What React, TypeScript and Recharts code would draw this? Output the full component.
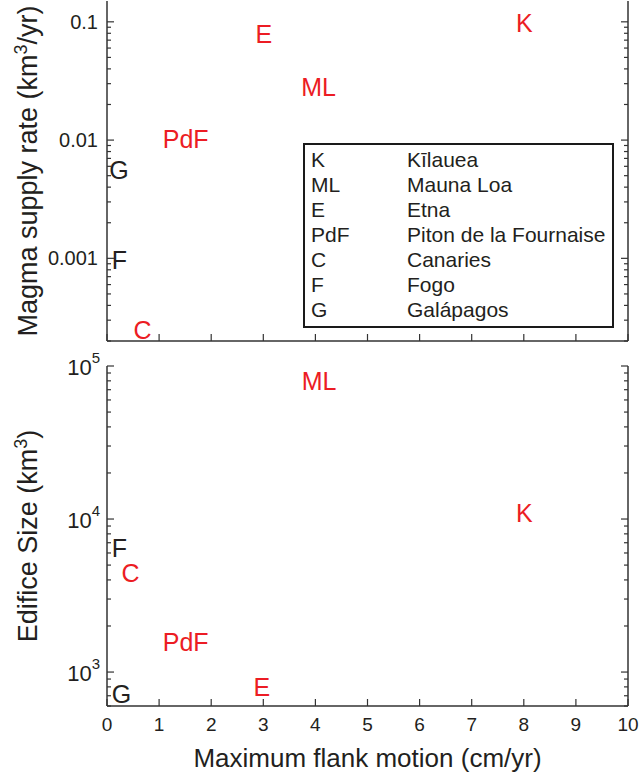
import { ScatterChart, Scatter, XAxis, YAxis, Legend } from 'recharts';

const codes = ['K', 'ML', 'E', 'PdF', 'C', 'F', 'G'];
const names = ['Kīlauea', 'Mauna Loa', 'Etna', 'Piton de la Fournaise', 'Canaries', 'Fogo', 'Galápagos'];
const redCodes = ['K', 'ML', 'E', 'PdF', 'C'];

// top panel: magma supply rate vs flank motion
const supplyX = [8.01, 4.06, 3.01, 1.51, 0.68, 0.24, 0.23];
const supplyY = [0.098, 0.0281, 0.0786, 0.0102, 0.000248, 0.000964, 0.00559];

// bottom panel: edifice size vs flank motion
const sizeX = [8.01, 4.07, 2.97, 1.51, 0.45, 0.24, 0.28];
const sizeY = [11030, 80000, 802, 1560, 4467, 6512, 716];

const xTicks = [0, 1, 2, 3, 4, 5, 6, 7, 8, 9, 10];
const supplyMajor = [0.001, 0.01, 0.1];
const supplyMinor = [
  0.0002, 0.0003, 0.0004, 0.0005, 0.0006, 0.0007, 0.0008, 0.0009,
  0.002, 0.003, 0.004, 0.005, 0.006, 0.007, 0.008, 0.009,
  0.02, 0.03, 0.04, 0.05, 0.06, 0.07, 0.08, 0.09,
];
const supplyTickLabels = ['0.001', '0.01', '0.1'];
const sizeMajor = [1000, 10000, 100000];
const sizeMinor = [
  600, 700, 800, 900,
  2000, 3000, 4000, 5000, 6000, 7000, 8000, 9000,
  20000, 30000, 40000, 50000, 60000, 70000, 80000, 90000,
];
const sizeExponents = ['3', '4', '5'];

const supplyData = codes.map((c, i) => ({ code: c, x: supplyX[i], y: supplyY[i] }));
const sizeData = codes.map((c, i) => ({ code: c, x: sizeX[i], y: sizeY[i] }));

const RED = '#ec1c24';
const INK = '#231f20';
const AXIS = '#333';
const FONT = '"Liberation Sans", Arial, sans-serif';

const axisLine = { stroke: AXIS, strokeWidth: 1.5 };

function CodeLabel(props: any) {
  const { cx, cy, payload } = props;
  const red = redCodes.includes(payload.code);
  return (
    <text
      x={cx}
      y={cy}
      textAnchor="middle"
      dominantBaseline="central"
      fontSize={25}
      fontFamily={FONT}
      fill={red ? RED : INK}
    >
      {payload.code}
    </text>
  );
}

const Nothing = () => <g />;

// ticks point into the plot, as in the original
function LeftTick(props: any) {
  const { x, y, payload, major, labels } = props;
  const idx = major.indexOf(payload.value);
  const isMajor = idx >= 0;
  return (
    <g>
      <line x1={x} x2={x + (isMajor ? 7 : 4)} y1={y} y2={y} stroke={AXIS} strokeWidth={1.2} />
      {isMajor && labels && (
        <text x={x - 9} y={y} textAnchor="end" dominantBaseline="central" fontSize={20} fontFamily={FONT} fill={INK}>
          {labels[idx]}
        </text>
      )}
    </g>
  );
}

function ExpTick(props: any) {
  const { x, y, payload } = props;
  const idx = sizeMajor.indexOf(payload.value);
  const isMajor = idx >= 0;
  return (
    <g>
      <line x1={x} x2={x + (isMajor ? 7 : 4)} y1={y} y2={y} stroke={AXIS} strokeWidth={1.2} />
      {isMajor && (
        <text x={x - 7} y={y + 9} textAnchor="end" fontSize={22} fontFamily={FONT} fill={INK}>
          <tspan>10</tspan>
          <tspan dy={-12} fontSize={15}>{sizeExponents[idx]}</tspan>
        </text>
      )}
    </g>
  );
}

function RightTick(props: any) {
  const { x, y, payload, major } = props;
  const isMajor = major.includes(payload.value);
  return <line x1={x} x2={x - (isMajor ? 7 : 4)} y1={y} y2={y} stroke={AXIS} strokeWidth={1.2} />;
}

function BottomTick(props: any) {
  const { x, y, payload, showLabel } = props;
  return (
    <g>
      <line x1={x} x2={x} y1={y} y2={y - 7} stroke={AXIS} strokeWidth={1.2} />
      {showLabel && (
        <text x={x} y={y + 25} textAnchor="middle" fontSize={19} fontFamily={FONT} fill={INK}>
          {payload.value}
        </text>
      )}
    </g>
  );
}

function TopTick(props: any) {
  const { x, y } = props;
  return <line x1={x} x2={x} y1={y} y2={y + 7} stroke={AXIS} strokeWidth={1.2} />;
}

function YTitle({ viewBox, main }: any) {
  const cx = viewBox.x + 37;
  const cy = viewBox.y + viewBox.height / 2;
  return (
    <text
      x={cx}
      y={cy}
      transform={`rotate(-90, ${cx}, ${cy})`}
      textAnchor="middle"
      fontSize={27}
      fontFamily={FONT}
      fill={INK}
    >
      <tspan>{main}</tspan>
      <tspan dy={-10} fontSize={18}>3</tspan>
      <tspan dy={10}>{main.startsWith('Magma') ? '/yr)' : ')'}</tspan>
    </text>
  );
}

function XTitle({ viewBox }: any) {
  return (
    <text
      x={viewBox.x + viewBox.width / 2}
      y={viewBox.y + 61}
      textAnchor="middle"
      fontSize={26}
      fontFamily={FONT}
      fill={INK}
    >
      Maximum flank motion (cm/yr)
    </text>
  );
}

function KeyBox() {
  return (
    <div
      style={{
        border: '2.5px solid #1a1a1a',
        background: '#fff',
        padding: '2px 6px 4px 6px',
        width: 295,
        fontFamily: FONT,
        fontSize: 21,
        lineHeight: '25px',
        color: INK,
        boxSizing: 'content-box',
      }}
    >
      {codes.map((c, i) => (
        <div key={c} style={{ display: 'flex', whiteSpace: 'nowrap' }}>
          <span style={{ width: 96 }}>{c}</span>
          <span>{names[i]}</span>
        </div>
      ))}
    </div>
  );
}

export default function App() {
  return (
    <div style={{ position: 'relative', width: 639, height: 777, background: '#fff' }}>
      <style>{'body{margin:0}'}</style>
      <div style={{ position: 'absolute', left: 0, top: 0 }}>
        <ScatterChart width={639} height={345} margin={{ top: 1, right: 0, bottom: 0, left: 0 }}>
          <XAxis
            xAxisId="b"
            type="number"
            dataKey="x"
            domain={[0, 10]}
            ticks={xTicks}
            interval={0}
            height={4}
            axisLine={axisLine}
            tickLine={false}
            tickSize={0}
            tickMargin={0}
            tick={(p: any) => <BottomTick {...p} showLabel={false} />}
            allowDataOverflow
          />
          <XAxis
            xAxisId="t"
            orientation="top"
            type="number"
            dataKey="x"
            domain={[0, 10]}
            ticks={xTicks}
            interval={0}
            height={0}
            axisLine={axisLine}
            tickLine={false}
            tickSize={0}
            tickMargin={0}
            tick={(p: any) => <TopTick {...p} />}
            allowDataOverflow
          />
          <YAxis
            yAxisId="l"
            type="number"
            dataKey="y"
            scale="log"
            domain={[0.0002, 0.15]}
            ticks={[...supplyMinor, ...supplyMajor]}
            interval={0}
            width={107}
            axisLine={axisLine}
            tickLine={false}
            tickSize={0}
            tickMargin={0}
            tick={(p: any) => <LeftTick {...p} major={supplyMajor} labels={supplyTickLabels} />}
            allowDataOverflow
            label={{ content: (p: any) => <YTitle {...p} main="Magma supply rate (km" /> }}
          />
          <YAxis
            yAxisId="r"
            orientation="right"
            type="number"
            dataKey="y"
            scale="log"
            domain={[0.0002, 0.15]}
            ticks={[...supplyMinor, ...supplyMajor]}
            interval={0}
            width={11}
            axisLine={axisLine}
            tickLine={false}
            tickSize={0}
            tickMargin={0}
            tick={(p: any) => <RightTick {...p} major={supplyMajor} />}
            allowDataOverflow
          />
          <Scatter data={supplyData} xAxisId="t" yAxisId="r" shape={Nothing} isAnimationActive={false} />
          <Scatter data={supplyData} xAxisId="b" yAxisId="l" shape={CodeLabel} isAnimationActive={false} />
          <Legend
            layout="vertical"
            align="center"
            verticalAlign="middle"
            content={() => <KeyBox />}
            wrapperStyle={{ position: 'absolute', left: 303, top: 143, width: 'auto' }}
          />
        </ScatterChart>
      </div>
      <div style={{ position: 'absolute', left: 0, top: 345 }}>
        <ScatterChart width={639} height={432} margin={{ top: 21, right: 0, bottom: 0, left: 0 }}>
          <XAxis
            xAxisId="b"
            type="number"
            dataKey="x"
            domain={[0, 10]}
            ticks={xTicks}
            interval={0}
            height={71}
            axisLine={axisLine}
            tickLine={false}
            tickSize={0}
            tickMargin={0}
            tick={(p: any) => <BottomTick {...p} showLabel />}
            allowDataOverflow
            label={{ content: (p: any) => <XTitle {...p} /> }}
          />
          <XAxis
            xAxisId="t"
            orientation="top"
            type="number"
            dataKey="x"
            domain={[0, 10]}
            ticks={xTicks}
            interval={0}
            height={0}
            axisLine={axisLine}
            tickLine={false}
            tickSize={0}
            tickMargin={0}
            tick={(p: any) => <TopTick {...p} />}
            allowDataOverflow
          />
          <YAxis
            yAxisId="l"
            type="number"
            dataKey="y"
            scale="log"
            domain={[600, 100000]}
            ticks={[...sizeMinor, ...sizeMajor]}
            interval={0}
            width={107}
            axisLine={axisLine}
            tickLine={false}
            tickSize={0}
            tickMargin={0}
            tick={(p: any) => <ExpTick {...p} />}
            allowDataOverflow
            label={{ content: (p: any) => <YTitle {...p} main="Edifice Size (km" /> }}
          />
          <YAxis
            yAxisId="r"
            orientation="right"
            type="number"
            dataKey="y"
            scale="log"
            domain={[600, 100000]}
            ticks={[...sizeMinor, ...sizeMajor]}
            interval={0}
            width={11}
            axisLine={axisLine}
            tickLine={false}
            tickSize={0}
            tickMargin={0}
            tick={(p: any) => <RightTick {...p} major={sizeMajor} />}
            allowDataOverflow
          />
          <Scatter data={sizeData} xAxisId="t" yAxisId="r" shape={Nothing} isAnimationActive={false} />
          <Scatter data={sizeData} xAxisId="b" yAxisId="l" shape={CodeLabel} isAnimationActive={false} />
        </ScatterChart>
      </div>
    </div>
  );
}
